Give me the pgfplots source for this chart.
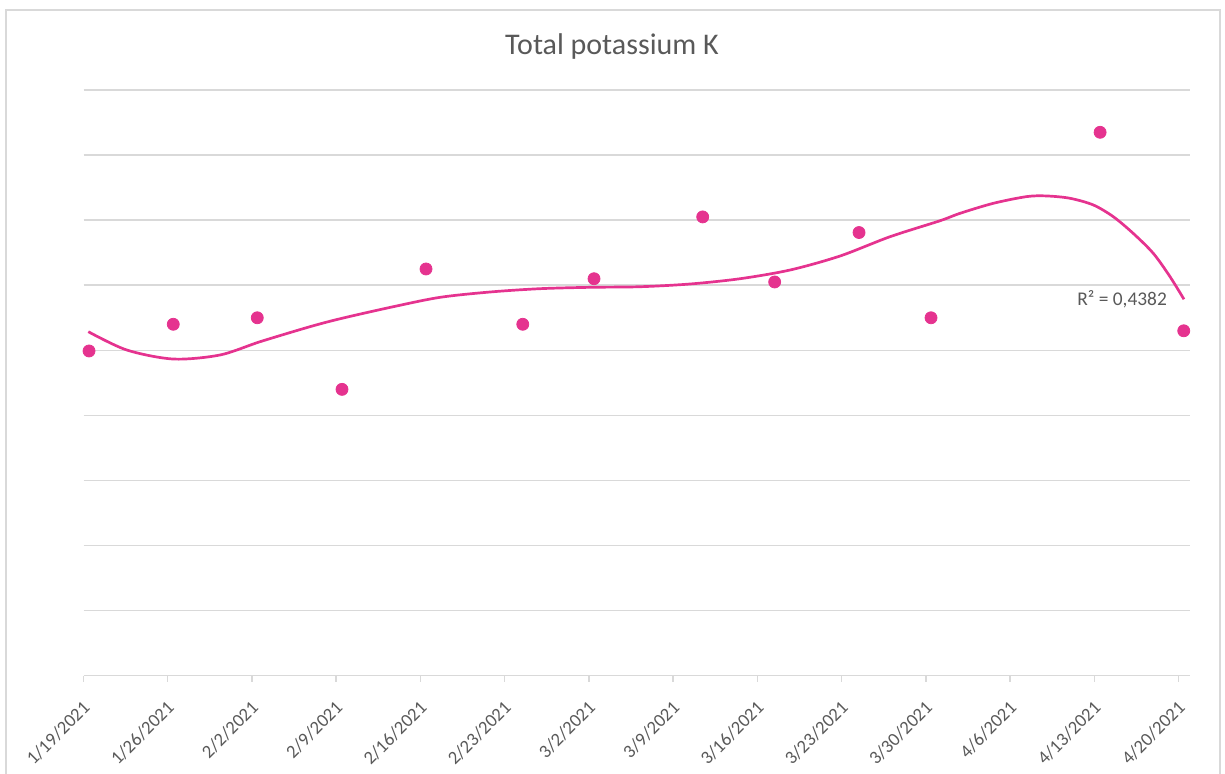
\documentclass[border=0pt]{standalone}
\usepackage{fontspec}
\setmainfont{Carlito}
\usepackage{pgfplots}
\pgfplotsset{compat=1.18}
\definecolor{cPink}{HTML}{E5338F}
\definecolor{cGrid}{HTML}{D9D9D9}
\definecolor{cText}{HTML}{595959}

\begin{document}
\begin{tikzpicture}
\useasboundingbox (0,0) rectangle (612.5pt,387pt);
% chart frame
\draw[cGrid, line width=0.75pt] (3pt,-2pt) -- (3pt,382pt) -- (610pt,382pt) -- (610pt,-2pt);
\node[text=cText, font=\fontsize{15}{18}\selectfont] at (306pt,363.5pt) {Total potassium K};
\begin{axis}[
    at={(41.75pt,49.15pt)}, anchor=south west,
    scale only axis, width=553.25pt, height=292.85pt,
    xmin=0, xmax=91.94, ymin=0, ymax=9,
    axis x line*=bottom, axis y line*=left,
    x axis line style={draw=cGrid, line width=0.75pt, -},
    y axis line style={draw=none},
    xtick={0,7,...,91},
    xticklabels={1/19/2021,1/26/2021,2/2/2021,2/9/2021,2/16/2021,2/23/2021,3/2/2021,
                 3/9/2021,3/16/2021,3/23/2021,3/30/2021,4/6/2021,4/13/2021,4/20/2021},
    xtick style={draw=cGrid, line width=0.75pt},
    tick align=outside, major tick length=3pt,
    xticklabel style={xshift=4pt, yshift=-9pt, rotate=45, anchor=east, text=cText,
                      font=\fontsize{9.3}{11}\selectfont},
    ytick={1,...,9}, yticklabels={}, ytick style={draw=none},
    ymajorgrids, grid style={cGrid, line width=0.75pt},
    clip=false,
]
% polynomial trendline
\addplot[cPink, line width=1.35pt, smooth] coordinates {
  (0.40,5.286) (3.59,5.005) (7.46,4.866) (11.34,4.928) (14.67,5.132) (18.82,5.363)
  (21.48,5.492) (25.74,5.670) (29.62,5.814) (33.78,5.896) (37.93,5.947) (42.09,5.968)
  (46.24,5.977) (50.40,6.019) (54.55,6.100) (58.71,6.234) (62.86,6.449) (67.02,6.746)
  (71.17,6.991) (72.83,7.105) (75.60,7.259) (78.37,7.362) (80.03,7.372) (81.97,7.336)
  (83.90,7.234) (85.56,7.054) (87.22,6.797) (88.89,6.490) (90.27,6.134) (91.44,5.784)};
% measurements
\addplot[only marks, mark=*, mark size=3pt, color=cPink] coordinates {
  (0.46,4.99) (7.46,5.40) (14.44,5.50) (21.48,4.40) (28.46,6.25) (36.50,5.40)
  (42.42,6.10) (51.45,7.05) (57.43,6.05) (64.44,6.81) (70.42,5.50) (84.47,8.35)
  (91.42,5.30)};
\node[text=cText, font=\fontsize{9.7}{11}\selectfont] at (axis cs:86.3,5.79) {R² = 0,4382};
\end{axis}
\end{tikzpicture}
\end{document}
